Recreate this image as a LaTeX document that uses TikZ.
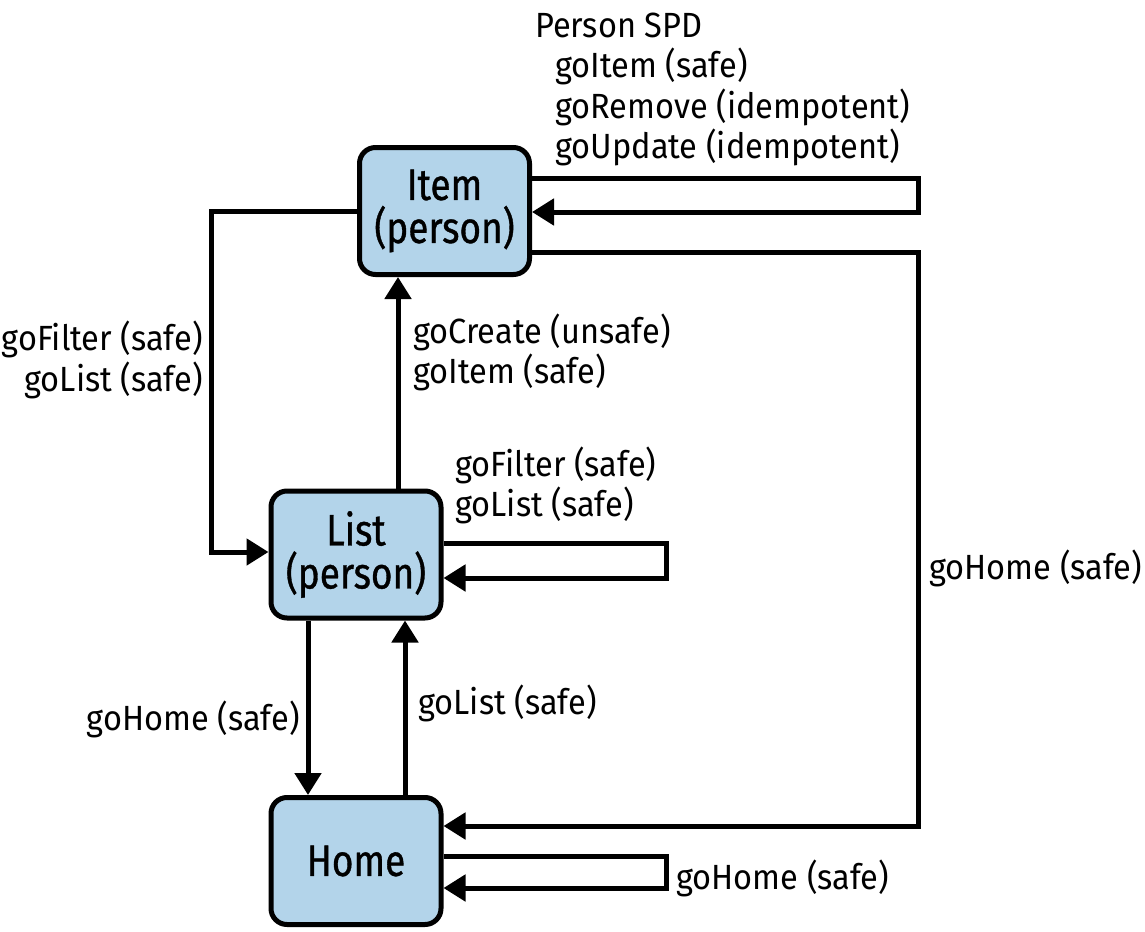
\documentclass[tikz,border=0pt]{standalone}
\usepackage{fontspec}
\setmainfont{Fira Sans}[FakeStretch=0.93]
\newfontfamily\statefont{Fira Sans}[FakeStretch=0.84, FakeBold=0.8]
\usetikzlibrary{arrows.meta}
\definecolor{boxblue}{HTML}{B3D4EA}
\begin{document}
\begin{tikzpicture}[x=1pt,y=-1pt,
  state/.style={draw=black, line width=5pt, fill=boxblue, rounded corners=16pt,
    minimum width=170pt, minimum height=127pt, inner sep=0pt,
    font=\statefont\fontsize{44}{43}\selectfont, align=center},
  conn/.style={line width=5pt, -{Triangle[length=22pt,width=26pt]}},
  lbl/.style={font=\fontsize{35}{40}\selectfont, inner sep=0pt}]
\useasboundingbox (0,0) rectangle (1145,931);

\node[state] (item) at (444.5,211) {Item\\(person)};
\node[state] (list) at (356,554.5) {List\\(person)};
\node[state] (home) at (356,861) {Home};

% connectors
\draw[conn] (item.east |- 0,178) -- (918,178) -- (918,212) -- (item.east |- 0,212);
\draw[conn] (item.east |- 0,252) -- (918,252) -- (918,826) -- (home.east |- 0,826);
\draw[conn] (item.west |- 0,211) -- (211,211) -- (211,552) -- (list.west |- 0,552);
\draw[conn] (list.north -| 398,0) -- (item.south -| 398,0);
\draw[conn] (list.east |- 0,543) -- (666,543) -- (666,578) -- (list.east |- 0,578);
\draw[conn] (list.south -| 308,0) -- (home.north -| 308,0);
\draw[conn] (home.north -| 405,0) -- (list.south -| 405,0);
\draw[conn] (home.east |- 0,856) -- (666,856) -- (666,888) -- (home.east |- 0,888);

% labels
\node[lbl, anchor=base west] (spd0) at (535,38) {Person SPD};
\node[lbl, anchor=base west] (spd1) at (555,78) {goItem (safe)};
\node[lbl, anchor=base west] (spd2) at (555,118) {goRemove (idempotent)};
\node[lbl, anchor=base west] (spd3) at (555,158) {goUpdate (idempotent)};

\node[lbl, anchor=base east] (fl1) at (203,350) {goFilter (safe)};
\node[lbl, anchor=base east] (fl2) at (203,391) {goList (safe)};

\node[lbl, anchor=base west] (ci1) at (413,343) {goCreate (unsafe)};
\node[lbl, anchor=base west] (ci2) at (413,383) {goItem (safe)};

\node[lbl, anchor=base west] (ls1) at (455,476) {goFilter (safe)};
\node[lbl, anchor=base west] (ls2) at (455,516) {goList (safe)};

\node[lbl, anchor=base west] (ih) at (929,579) {goHome (safe)};
\node[lbl, anchor=base east] (lh) at (300,730) {goHome (safe)};
\node[lbl, anchor=base west] (hl) at (418,714) {goList (safe)};
\node[lbl, anchor=base west] (hh) at (676,889) {goHome (safe)};
\end{tikzpicture}
\end{document}
